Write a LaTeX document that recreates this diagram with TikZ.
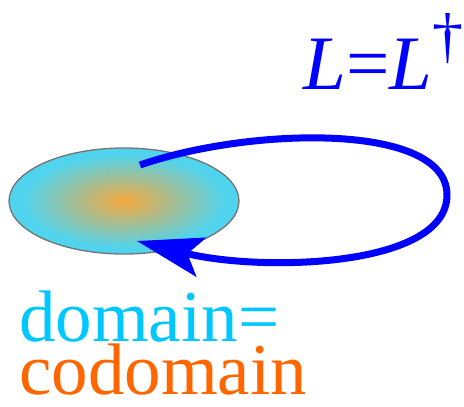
\documentclass[tikz,border=0pt]{standalone}
\usepackage{fontspec}
\setmainfont{Liberation Serif}
\usetikzlibrary{arrows.meta,shapes.geometric}
\definecolor{elcyan}{RGB}{80,212,238}
\definecolor{elorange}{RGB}{245,168,60}
\definecolor{txtcyan}{RGB}{0,200,255}
\definecolor{txtorange}{RGB}{255,102,0}
\definecolor{loopblue}{RGB}{0,0,255}
\pgfdeclareradialshading{domshade}{\pgfpoint{0bp}{0bp}}{%
  color(0bp)=(elorange); color(22bp)=(elcyan); color(50bp)=(elcyan)}
\begin{document}
\begin{tikzpicture}[x=1pt,y=-1pt,
  bigtext/.style={inner sep=0pt,anchor=base west},
  domnode/.style={ellipse,inner sep=0pt,minimum width=230pt,minimum height=106pt,
    shading=domshade,draw=gray!90!black,line width=1.3pt},
  loopline/.style={draw=loopblue,line width=7pt,
    -{Stealth[length=66pt,width=40pt,inset=14pt]}}]
\useasboundingbox (0,0) rectangle (464,407);
\node[domnode] (dom) at (124,201) {};
\coordinate (start) at (140,165);
\coordinate (endp) at (137,241);
\coordinate (right) at (447,195);
\draw[loopline] (start) .. controls (250,127) and (447,122) .. (right)
  .. controls (447,268) and (260,272) .. (endp);
\node[bigtext,text=loopblue,font=\fontsize{77}{77}\selectfont] (eq) at (303,89)
  {\itshape L\upshape =\itshape L\raisebox{0.42em}{\upshape\fontsize{62}{62}\selectfont †}};
\node[bigtext,text=txtcyan,font=\fontsize{73}{73}\selectfont] (d1) at (19,341) {domain=};
\node[bigtext,text=txtorange,font=\fontsize{73}{73}\selectfont] (d2) at (19,394) {codomain};
\end{tikzpicture}
\end{document}
